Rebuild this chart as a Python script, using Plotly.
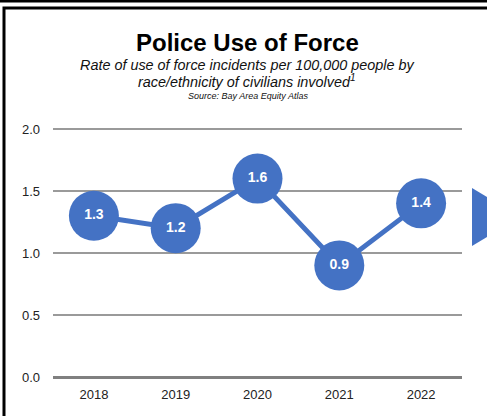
import plotly.graph_objects as go

# Data
years = ["2018", "2019", "2020", "2021", "2022"]
rates = [1.3, 1.2, 1.6, 0.9, 1.4]
y_ticks = [0.0, 0.5, 1.0, 1.5, 2.0]
y_tick_labels = ["0.0", "0.5", "1.0", "1.5", "2.0"]

BLUE = "#4472C4"
FONT = "Liberation Sans, Arial, sans-serif"

W, H = 487, 416
Y_MAX = 2.04
UNIT_PX = 124  # vertical pixels per 1.0 on the y axis
ML, MR, MB = 53, 25, 39
PH = round(Y_MAX * UNIT_PX)
MT = H - MB - PH
PW = W - ML - MR


def px(x):
    return (x - ML) / PW


def py(y):
    return (H - MB - y) / PH


fig = go.Figure()
fig.add_trace(go.Scatter(
    x=years, y=rates,
    mode="lines+markers+text",
    line=dict(color=BLUE, width=5),
    marker=dict(size=50, color=BLUE),
    text=[f"{v:.1f}" for v in rates],
    textposition="middle center",
    textfont=dict(family=FONT, size=14, color="white", weight="bold"),
    cliponaxis=False,
    hoverinfo="skip",
))

shapes = [
    # top rule
    dict(type="rect", xref="paper", yref="paper",
         x0=px(-5), x1=px(W + 5), y0=py(2.6), y1=py(-2),
         fillcolor="black", line=dict(width=0), layer="above"),
    # panel frame
    dict(type="rect", xref="paper", yref="paper",
         x0=px(4), x1=px(W + 20), y0=py(H + 20), y1=py(8),
         line=dict(color="black", width=3), fillcolor="rgba(0,0,0,0)"),
    # arrow on the right edge
    dict(type="path", xref="paper", yref="paper",
         path=f"M {px(472)},{py(188)} L {px(520)},{py(217)} L {px(472)},{py(246)} Z",
         fillcolor=BLUE, line=dict(width=0)),
]

annotations = [
    dict(text="<b>Police Use of Force</b>", xref="paper", yref="paper",
         x=px(247), y=py(42), xanchor="center", yanchor="middle", showarrow=False,
         font=dict(family=FONT, size=24, color="black")),
    dict(text="<i>Rate of use of force incidents per 100,000 people by</i>",
         xref="paper", yref="paper", x=px(247), y=py(65),
         xanchor="center", yanchor="middle", showarrow=False,
         font=dict(family=FONT, size=14.4, color="#111")),
    dict(text="<i>race/ethnicity of civilians involved<sup>1</sup></i>",
         xref="paper", yref="paper", x=px(247), y=py(81),
         xanchor="center", yanchor="middle", showarrow=False,
         font=dict(family=FONT, size=14.4, color="#111")),
    dict(text="<i>Source: Bay Area Equity Atlas</i>",
         xref="paper", yref="paper", x=px(248), y=py(96),
         xanchor="center", yanchor="middle", showarrow=False,
         font=dict(family=FONT, size=9, color="#111")),
]

fig.update_layout(
    width=W, height=H,
    margin=dict(l=ML, r=MR, t=MT, b=MB, pad=0),
    paper_bgcolor="white", plot_bgcolor="white",
    showlegend=False,
    shapes=shapes,
    annotations=annotations,
    font=dict(family=FONT, size=13, color="#222"),
)
fig.update_xaxes(
    type="category", range=[-0.5, 4.5],
    showgrid=False, showline=False, zeroline=False,
    ticks="", ticklabelstandoff=8,
    tickfont=dict(family=FONT, size=13, color="#222"),
)
fig.update_yaxes(
    range=[0, Y_MAX], tickvals=y_ticks, ticktext=y_tick_labels,
    showgrid=True, gridcolor="#9a9a9a", gridwidth=1.5,
    zeroline=True, zerolinecolor="#808080", zerolinewidth=2.5,
    showline=False, ticks="", ticklabelstandoff=12,
    tickfont=dict(family=FONT, size=13, color="#222"),
)

fig.write_html("out.html")
